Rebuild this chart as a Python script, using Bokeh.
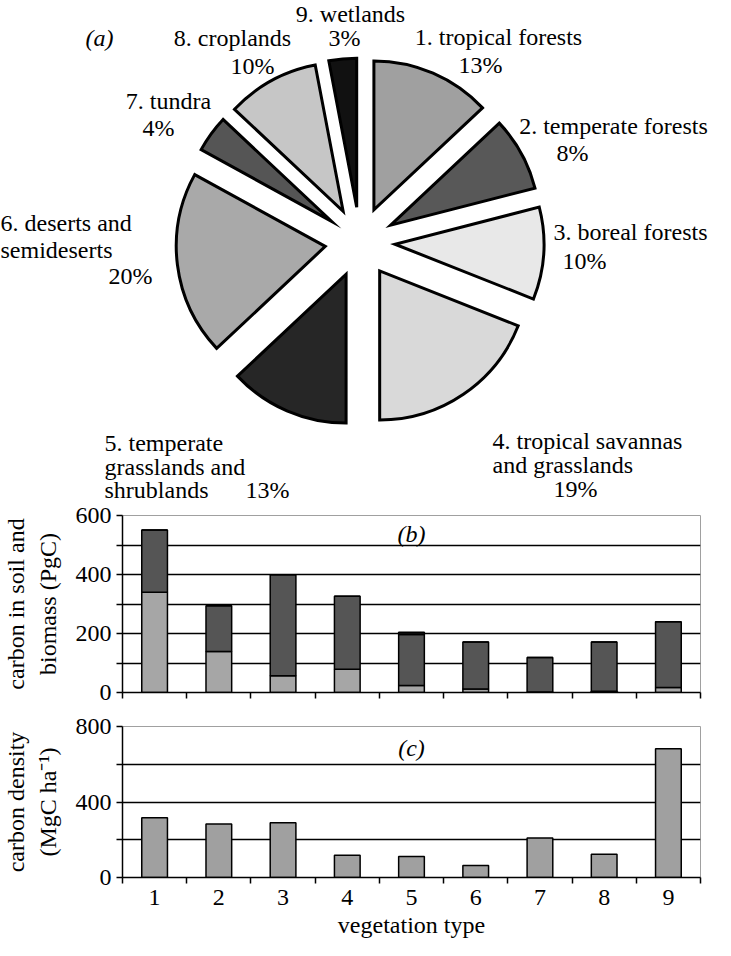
import numpy as np
from bokeh.plotting import figure
from bokeh.layouts import column
from bokeh.models import ColumnDataSource, FixedTicker, Range1d
from bokeh.core.properties import value
from bokeh.embed import file_html
from bokeh.resources import INLINE

# ---------------- data ----------------
veg_types = [1, 2, 3, 4, 5, 6, 7, 8, 9]
area_pct = [13, 8, 10, 19, 13, 20, 4, 10, 3]
veg_labels = [
    ["1. tropical forests", "13%"],
    ["2. temperate forests", "8%"],
    ["3. boreal forests", "10%"],
    ["4. tropical savannas", "and grasslands", "19%"],
    ["5. temperate", "grasslands and", "shrublands", "13%"],
    ["6. deserts and", "semideserts", "20%"],
    ["7. tundra", "4%"],
    ["8. croplands", "10%"],
    ["9. wetlands", "3%"],
]
plants_pgc = [340, 139, 57, 79, 24, 12, 2, 4, 17]
soil_pgc = [211, 155, 342, 247, 173, 159, 117, 167, 223]
other_pgc = [0, 0, 0, 0, 7, 0, 0, 0, 0]
density_mgc_ha = [316, 284, 290, 118, 111, 63, 209, 123, 682]

# ---------------- styles ----------------
FONT = value("Liberation Serif")
slice_colors = ["#a0a0a0", "#585858", "#e8e8e8", "#d9d9d9", "#262626",
                "#a9a9a9", "#555555", "#c6c6c6", "#111111"]

# ---------------- (a) pie ----------------
W = 715
HA = 503
pa = figure(width=W, height=HA, x_range=Range1d(0, W), y_range=Range1d(0, HA),
            x_axis_type=None, y_axis_type=None, min_border=0,
            output_backend="svg", toolbar_location=None)
pa.frame_align = False
pa.grid.visible = False
pa.outline_line_color = None

def px(x):
    return x - 8

def py(y):
    return HA + 8 - y

pie_cx, pie_cy, R, EXPL = px(367.5), py(249.5), 149, 35
frac = np.array(area_pct, dtype=float) / sum(area_pct)
cum = np.concatenate([[0.0], np.cumsum(frac)])
t1 = cum[:-1] * 2 * np.pi
t2 = cum[1:] * 2 * np.pi
tm = (t1 + t2) / 2
src = ColumnDataSource(dict(
    x=pie_cx + EXPL * np.sin(tm),
    y=pie_cy + EXPL * np.cos(tm),
    start=np.pi / 2 - t2,
    end=np.pi / 2 - t1,
    color=slice_colors,
))
pa.wedge(x="x", y="y", radius=R, start_angle="start", end_angle="end",
         direction="anticlock", fill_color="color", line_color="black",
         line_width=3, line_join="miter", source=src)

# label layout (page pixel positions of each line) and alignment
label_pos = [
    [(506, 44, "center"), (488, 72, "center")],
    [(621, 133, "center"), (580, 160, "center")],
    [(638, 239, "center"), (592, 268, "center")],
    [(500, 448, "left"), (500, 472, "left"), (583, 496, "center")],
    [(112, 450, "left"), (112, 474, "left"), (112, 497, "left"), (275, 497, "center")],
    [(8, 230, "left"), (8, 257, "left"), (160, 283, "right")],
    [(176, 108, "center"), (166, 135, "center")],
    [(240, 45, "center"), (260, 73, "center")],
    [(358, 21, "center"), (352, 45, "center")],
]
lx, ly, lt, la = [], [], [], []
for lines, poss in zip(veg_labels, label_pos):
    for t, (x, y, a) in zip(lines, poss):
        lx.append(px(x)); ly.append(py(y)); lt.append(t); la.append(a)
pa.text(x="x", y="y", text="text", text_align="align", text_baseline="middle",
        text_font=FONT, text_font_size="24px", text_color="black",
        source=ColumnDataSource(dict(x=lx, y=ly, text=lt, align=la)))
pa.text(x=[px(107)], y=[py(45)], text=["(a)"], text_align="center",
        text_baseline="middle", text_font=FONT, text_font_size="24px",
        text_font_style="italic")


def style_bar_fig(p):
    p.frame_align = False
    p.outline_line_color = "#a0a0a0"
    p.outline_line_width = 1
    p.xgrid.visible = False
    p.ygrid.grid_line_color = "black"
    p.ygrid.grid_line_width = 1.5
    for ax in (p.xaxis[0], p.yaxis[0]):
        ax.axis_line_color = "black"
        ax.axis_line_width = 1.5
        ax.major_tick_line_color = "black"
        ax.minor_tick_line_color = "black"
        ax.major_tick_line_width = 1.5
        ax.minor_tick_line_width = 1.5
        ax.major_label_text_font = "Liberation Serif"
        ax.major_label_text_font_size = "24px"
        ax.major_label_text_color = "black"
        ax.axis_label_text_font = "Liberation Serif"
        ax.axis_label_text_font_size = "24px"
        ax.axis_label_text_font_style = "normal"
        ax.axis_label_text_color = "black"
        ax.axis_label_text_align = "center"
    p.xaxis.major_tick_in = 0
    p.xaxis.major_tick_out = 0
    p.xaxis.minor_tick_in = 0
    p.xaxis.minor_tick_out = 6
    p.yaxis.major_tick_in = 0
    p.yaxis.major_tick_out = 6
    p.yaxis.minor_tick_in = 0
    p.yaxis.minor_tick_out = 6


boundaries = [v + 0.5 for v in [0] + veg_types]

# ---------------- (b) stacked bars ----------------
pb = figure(width=W, height=204, x_range=Range1d(0.5, 9.5), y_range=Range1d(0, 600),
            min_border_top=12, min_border_left=114, min_border_right=15,
            min_border_bottom=15, output_backend="svg", toolbar_location=None)
style_bar_fig(pb)
pb.xaxis.ticker = FixedTicker(ticks=[], minor_ticks=boundaries)
pb.yaxis.ticker = FixedTicker(ticks=[0, 200, 400, 600], minor_ticks=[100, 300, 500])
pb.ygrid.ticker = FixedTicker(ticks=[100, 200, 300, 400, 500])
pb.yaxis.axis_label = "carbon in soil and\nbiomass (PgC)"
pb.yaxis.axis_label_standoff = 12
bsrc = ColumnDataSource(dict(x=veg_types, plants=plants_pgc, soil=soil_pgc,
                             other=other_pgc))
pb.vbar_stack(["plants", "soil", "other"], x="x", width=0.4,
              color=["#a6a6a6", "#555555", "#111111"], line_color="black",
              line_width=1.5, source=bsrc)
pb.text(x=[5], y=[537], text=["(b)"], text_align="center", text_baseline="middle",
        text_font=FONT, text_font_size="24px", text_font_style="italic")

# ---------------- (c) density bars ----------------
pc = figure(width=W, height=233, x_range=Range1d(0.5, 9.5), y_range=Range1d(0, 800),
            min_border_top=19, min_border_left=114, min_border_right=15,
            min_border_bottom=55, output_backend="svg", toolbar_location=None)
style_bar_fig(pc)
pc.xaxis.ticker = FixedTicker(ticks=veg_types, minor_ticks=boundaries)
pc.yaxis.ticker = FixedTicker(ticks=[0, 400, 800], minor_ticks=[200, 600])
pc.ygrid.ticker = FixedTicker(ticks=[200, 400, 600])
pc.xaxis.major_label_standoff = 6
pc.xaxis.axis_label = "vegetation type"
pc.xaxis.axis_label_standoff = 4
pc.yaxis.axis_label = "carbon density\n(MgC ha\u207b\u00b9)"
pc.yaxis.axis_label_standoff = 12
pc.vbar(x=veg_types, top=density_mgc_ha, width=0.4, fill_color="#a0a0a0",
        line_color="black", line_width=1.5)
pc.text(x=[5], y=[687], text=["(c)"], text_align="center", text_baseline="middle",
        text_font=FONT, text_font_size="24px", text_font_style="italic")

layout = column(pa, pb, pc, spacing=0)
open("out.html", "w").write(file_html(layout, INLINE))
